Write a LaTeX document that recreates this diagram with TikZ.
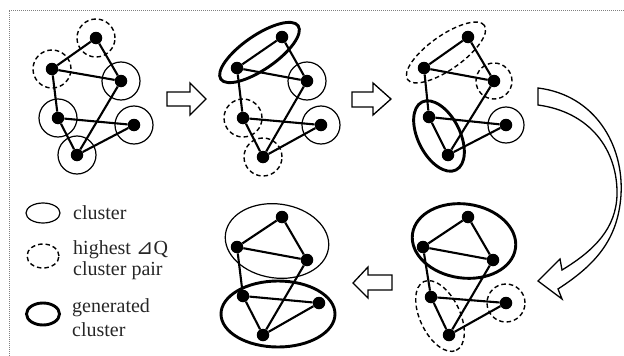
\documentclass[tikz,border=0pt]{standalone}
\usepackage{fontspec}
\setmainfont{Liberation Serif}
\newfontfamily\symfont{DejaVu Sans}
\begin{document}
\begin{tikzpicture}[x=1pt,y=-1pt,
  dot/.style={circle,fill=black,inner sep=0pt,minimum size=12.5pt},
  edge/.style={line width=2.1pt,black},
  cl/.style={line width=1.2pt,black},
  hq/.style={line width=1.4pt,black,dash pattern=on 4.5pt off 3pt},
  gen/.style={line width=2.9pt,black},
  blockarrow/.style={line width=1.3pt,black,fill=white,line join=miter},
  lab/.style={font=\fontsize{20}{22}\selectfont,inner sep=0pt,anchor=base west,text=black!85}]
\useasboundingbox (0,0) rectangle (624,356);
% frame
\draw[gray,line width=0.9pt,dash pattern=on 1pt off 1pt] (9,356) -- (9,10) -- (624,10);

% ---------- panel 1
\node[dot] (a1) at (96,38) {};
\node[dot] (b1) at (52,69) {};
\node[dot] (c1) at (121,81) {};
\node[dot] (d1) at (58,118) {};
\node[dot] (e1) at (134,125) {};
\node[dot] (f1) at (77,155) {};
\draw[hq] (a1) circle[radius=19pt];
\draw[hq] (b1) circle[radius=19pt];
\draw[cl] (c1) circle[radius=19pt];
\draw[cl] (d1) circle[radius=19pt];
\draw[cl] (e1) circle[radius=19pt];
\draw[cl] (f1) circle[radius=19pt];

% ---------- panel 2
\node[dot] (a2) at (282,37) {};
\node[dot] (b2) at (237,68) {};
\node[dot] (c2) at (307,81) {};
\node[dot] (d2) at (243,118) {};
\node[dot] (e2) at (321,125) {};
\node[dot] (f2) at (263,157) {};
\draw[gen,rotate around={34.6:(259.5,52.5)}] (259.5,52.5) ellipse[x radius=47pt,y radius=17pt];
\draw[cl] (c2) circle[radius=19pt];
\draw[cl] (e2) circle[radius=19pt];
\draw[hq] (d2) circle[radius=19pt];
\draw[hq] (f2) circle[radius=19pt];

% ---------- panel 3
\node[dot] (a3) at (468,37) {};
\node[dot] (b3) at (424,68) {};
\node[dot] (c3) at (494,81) {};
\node[dot] (d3) at (429,117) {};
\node[dot] (e3) at (506,125) {};
\node[dot] (f3) at (448,155) {};
\draw[hq,rotate around={35.2:(446,52.5)}] (446,52.5) ellipse[x radius=47pt,y radius=17pt];
\draw[hq] (c3) circle[radius=18pt];
\draw[gen,rotate around={-63.4:(439,136)}] (439,136) ellipse[x radius=38pt,y radius=21pt];
\draw[cl] (e3) circle[radius=18pt];

% ---------- panel 4 (bottom middle)
\node[dot] (a4) at (282,217) {};
\node[dot] (b4) at (237,247) {};
\node[dot] (c4) at (307,260) {};
\node[dot] (d4) at (243,296) {};
\node[dot] (e4) at (319,303) {};
\node[dot] (f4) at (263,335) {};
\draw[cl,rotate around={-8:(277,241)}] (277,241) ellipse[x radius=52pt,y radius=37pt];
\draw[gen] (278,314) ellipse[x radius=57pt,y radius=33pt];

% ---------- panel 5 (bottom right)
\node[dot] (a5) at (468,217) {};
\node[dot] (b5) at (423,247) {};
\node[dot] (c5) at (493,260) {};
\node[dot] (d5) at (431,297) {};
\node[dot] (e5) at (506,303) {};
\node[dot] (f5) at (449,335) {};
\draw[gen,rotate around={-8:(464,241)}] (464,241) ellipse[x radius=52pt,y radius=37pt];
\draw[hq,rotate around={-64.7:(440,316)}] (440,316) ellipse[x radius=38pt,y radius=20pt];
\draw[hq] (e5) circle[radius=19pt];

% ---------- edges (same graph in every panel)
\foreach \p in {1,2,3,4,5}{
  \draw[edge] (a\p) -- (b\p);
  \draw[edge] (a\p) -- (c\p);
  \draw[edge] (b\p) -- (c\p);
  \draw[edge] (b\p) -- (d\p);
  \draw[edge] (c\p) -- (f\p);
  \draw[edge] (d\p) -- (e\p);
  \draw[edge] (d\p) -- (f\p);
  \draw[edge] (e\p) -- (f\p);
}

% ---------- block arrows
\draw[blockarrow] (167,92) -- (190,92) -- (190,83) -- (206,99) -- (190,115) -- (190,106) -- (167,106) -- cycle;
\draw[blockarrow] (352,92) -- (373,92) -- (373,83) -- (391,99) -- (373,115) -- (373,107) -- (352,107) -- cycle;
\draw[blockarrow] (392,275) -- (368,275) -- (368,267) -- (353,283) -- (368,298) -- (368,290) -- (392,290) -- cycle;
% curved arrow
\draw[blockarrow] (538,88) .. controls (595,95) and (624,145) .. (621,195)
  .. controls (618,240) and (595,265) .. (558,289)
  -- (562,299) -- (538,281) -- (560,259) -- (562,270)
  .. controls (595,250) and (616,228) .. (617,195)
  .. controls (618,150) and (590,112) .. (538,105) -- cycle;

% ---------- legend
\draw[cl] (43,213) ellipse[x radius=17pt,y radius=10pt];
\draw[hq] (43,256) ellipse[x radius=16pt,y radius=12pt];
\draw[gen] (43,314) ellipse[x radius=16.5pt,y radius=11pt];
\node[lab] (l1) at (73,219) {cluster};
\node[lab] (l2) at (73,254) {highest {\symfont\fontsize{21}{22}\selectfont ⊿}Q};
\node[lab] (l3) at (73,275) {cluster pair};
\node[lab] (l4) at (72,312) {generated};
\node[lab] (l5) at (72,336) {cluster};
\end{tikzpicture}
\end{document}
